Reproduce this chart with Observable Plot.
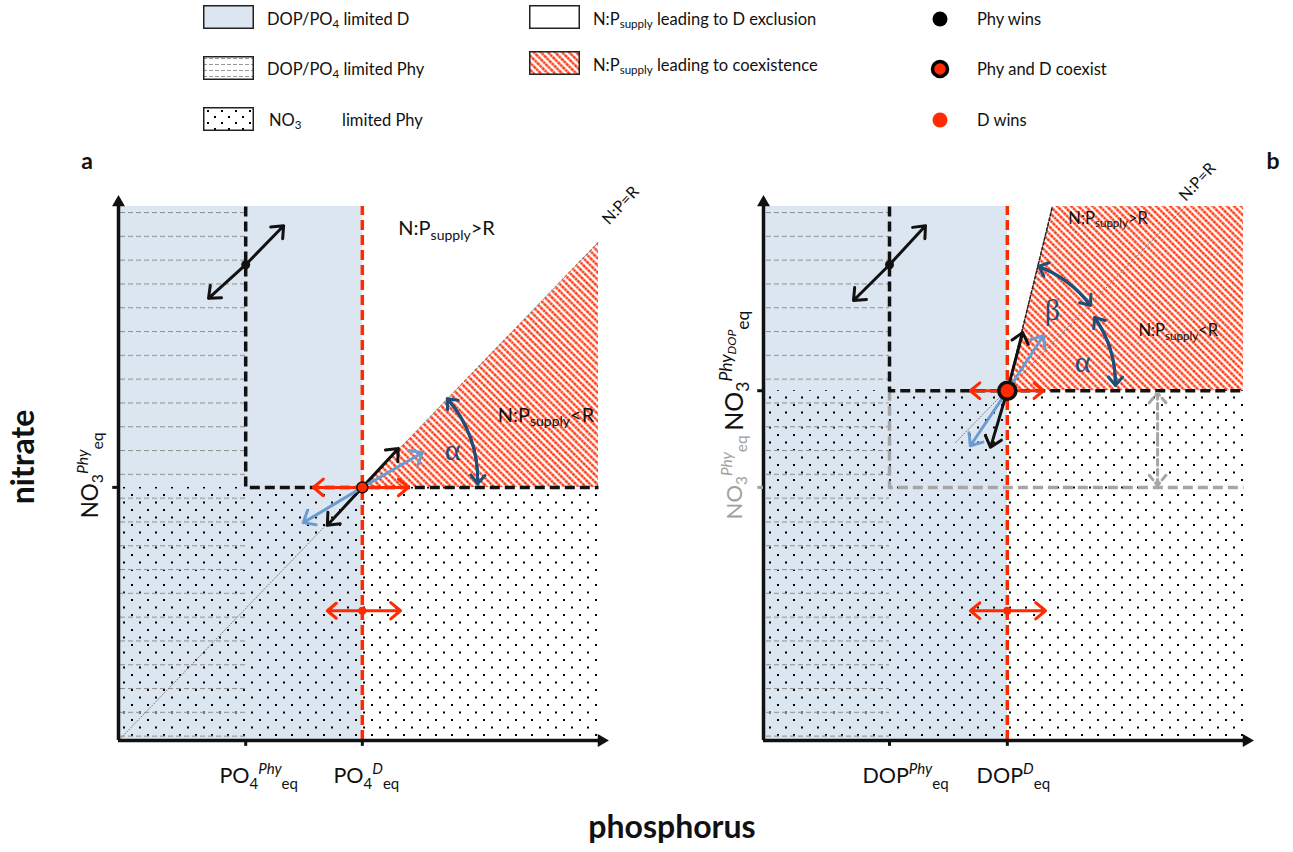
<!DOCTYPE html>
<html><head><meta charset="utf-8">
<script src="https://cdn.jsdelivr.net/npm/d3@7"></script>
<script src="https://cdn.jsdelivr.net/npm/@observablehq/plot@0.6"></script>
<style>
body{margin:0;background:#fff;font-family:Lato,"Open Sans",sans-serif;color:#111}
#root{position:relative;width:1293px;height:852px;overflow:hidden}
.abs{position:absolute;white-space:nowrap;line-height:1}
.c{transform:translate(-50%,-50%)}
.sw{position:absolute;width:51px;height:24px}
.lt{position:absolute;font-size:16.5px;white-space:nowrap;line-height:1;transform:translateY(-50%)}
.lt sub{font-size:70%;vertical-align:-0.3em;line-height:0}
.panel{position:absolute;top:145px}
</style></head>
<body>
<svg width="0" height="0" style="position:absolute">
<defs>
 <pattern id="dots" patternUnits="userSpaceOnUse" width="16" height="15"><rect x="3" y="4" width="2" height="2" fill="#000"/><rect x="11" y="11.5" width="2" height="2" fill="#000"/></pattern>
 <pattern id="hdash" patternUnits="userSpaceOnUse" width="8" height="23.8" y="19.4"><line x1="0" x2="5" y1="0.5" y2="0.5" stroke="#939393" stroke-width="1.2"/></pattern>
 <pattern id="hatch" patternUnits="userSpaceOnUse" width="5" height="7" patternTransform="rotate(-45)"><line x1="2.5" y1="0" x2="2.5" y2="7" stroke="#ff2a00" stroke-width="2.3" stroke-dasharray="3 0.5"/></pattern>
 <pattern id="hdashL" patternUnits="userSpaceOnUse" width="6" height="6" y="2"><line x1="0" x2="4" y1="0.5" y2="0.5" stroke="#9a9a9a" stroke-width="1"/></pattern>
 <pattern id="dotsL" patternUnits="userSpaceOnUse" width="14" height="12"><rect x="4" y="3" width="2" height="2" fill="#000"/><rect x="11" y="9" width="2" height="2" fill="#000"/></pattern>
</defs></svg>
<div id="root"></div>
<script>
// ---------------- data: panel a (PO4) ----------------
const aXTicks = [26.5, 50.8];
const aXTickLabels = ["PO_{4}^{Phy}_{eq}", "PO_{4}^{D}_{eq}"];
const aXLabelShift = [13, 4];
const aYTicks = [47.4];
const aYTickLabels = ["NO_{3}^{Phy}_{eq}"];
const aRatioLine = [{x: 0, y: 0}, {x: 100, y: 93.3}];
const aCoexist = [{x: 50.8, y1: 47.4, y2: 47.4}, {x: 100, y1: 47.4, y2: 93.3}];
const aBlackBoundary = [{x: 26.5, y: 100}, {x: 26.5, y: 47.4}, {x: 100, y: 47.4}];
const aRedBoundary = [50.8];
const aDoubleArrows = [
  {kind: "black", cx: 26.5, cy: 89.1, ax: 18.75, ay: 82.8, bx: 34.4, by: 96.4},
  {kind: "blue",  cx: 50.8, cy: 47.4, ax: 38.5, ay: 40.8, bx: 63.3, by: 53.9},
  {kind: "black", cx: 50.8, cy: 47.4, ax: 43.5, ay: 40.3, bx: 58.3, by: 54.7},
  {kind: "red",   cx: 50.8, cy: 47.4, ax: 40.6, ay: 47.4, bx: 60.4, by: 47.4},
  {kind: "red",   cx: 50.8, cy: 24.3, ax: 43.5, ay: 24.3, bx: 58.75, by: 24.3}
];
const aArcs = [{x1: 68.5, y1: 64.0, x2: 74.8, y2: 48.1, bend: 22}];
const aPoints = [
  {kind: "phy", x: 26.5, y: 89.1},
  {kind: "coexist", x: 50.8, y: 47.4},
  {kind: "d", x: 50.8, y: 24.3}
];
const aTexts = [{text: "N:P_{supply}>R", x: 58.3, y: 95.9}, {text: "N:P_{supply}<R", x: 79, y: 60.9}];
const aGreek = [{text: "α", x: 69.6, y: 54.3}];
const aRatioLabel = [{text: "N:P=R", x: 104.6, y: 100.2}];

// ---------------- data: panel b (DOP) ----------------
const bXTicks = [26.25, 50.8];
const bXTickLabels = ["DOP^{Phy}_{eq}", "DOP^{D}_{eq}"];
const bXLabelShift = [16, 6];
const bYTicks = [65.5, 47.4];
const bYTickLabels = ["NO_{3}^{Phy_{DOP}}_{eq}", "NO_{3}^{Phy}_{eq}"];
const bRatioLine = [{x: 40, y: 55.8}, {x: 87.9, y: 100}];
const bCoexist = [{x: 50.8, y1: 65.5, y2: 65.5}, {x: 60.2, y1: 65.5, y2: 100}, {x: 100, y1: 65.5, y2: 100}];
const bSteepBoundary = [{x: 50.8, y: 65.5}, {x: 60.2, y: 100}];
const bBlackBoundary = [{x: 26.25, y: 100}, {x: 26.25, y: 65.5}, {x: 100, y: 65.5}];
const bGreyBoundary = [{x: 26.25, y: 65.5}, {x: 26.25, y: 47.4}, {x: 100, y: 47.4}];
const bRedBoundary = [50.8];
const bDoubleArrows = [
  {kind: "black", cx: 26.25, cy: 89.1, ax: 18.75, ay: 82.4, bx: 33.75, by: 96.4},
  {kind: "blue",  cx: 50.8, cy: 65.5, ax: 43.1, ay: 55.2, bx: 58.3, by: 75.8},
  {kind: "black", cx: 50.8, cy: 65.5, ax: 47.3, ay: 54.9, bx: 54.0, by: 76.4},
  {kind: "red",   cx: 50.8, cy: 65.5, ax: 43.1, ay: 65.5, bx: 58.3, by: 65.5},
  {kind: "red",   cx: 50.8, cy: 24.3, ax: 43.1, ay: 24.3, bx: 58.75, by: 24.3},
  {kind: "grey",  cx: 82.1, cy: 56.4, ax: 82.1, ay: 47.8, bx: 82.1, by: 65.1}
];
const bArcs = [
  {x1: 57.3, y1: 88.8, x2: 68.1, y2: 81.5, bend: 16},
  {x1: 69.0, y1: 79.2, x2: 73.3, y2: 66.5, bend: 18}
];
const bPoints = [
  {kind: "phy", x: 26.25, y: 89.1},
  {kind: "coexistBig", x: 50.8, y: 65.5},
  {kind: "d", x: 50.8, y: 24.3}
];
const bTexts = [{text: "N:P_{supply}>R", x: 63.5, y: 97.8}, {text: "N:P_{supply}<R", x: 78.1, y: 76.8}];
const bGreek = [{text: "α", x: 66.5, y: 70.8}, {text: "β", x: 60.2, y: 80.5}];
const bRatioLabel = [{text: "N:P=R", x: 90.4, y: 104.6}];

// ---------------- styles ----------------
const RED = "#ff2a00", BLACK = "#111", BLUEFILL = "#dce6f1", ARC = "#1f4e79", GREY = "#a6a6a6";
const kindColor = {black: BLACK, red: RED, blue: "#6b9bd1", grey: GREY};

function doubleArrows(list, kind, extra = {}) {
  const rows = list.filter(d => d.kind === kind).flatMap(d => [
    {x1: d.cx, y1: d.cy, x2: d.ax, y2: d.ay}, {x1: d.cx, y1: d.cy, x2: d.bx, y2: d.by}]);
  return Plot.arrow(rows, {x1: "x1", y1: "y1", x2: "x2", y2: "y2", stroke: kindColor[kind],
    strokeWidth: 3, headLength: 6.5, headAngle: 80, ...extra});
}
function arcs(list) {
  return list.flatMap(d => [
    Plot.arrow([d], {x1: "x1", y1: "y1", x2: "x2", y2: "y2", bend: d.bend, stroke: ARC, strokeWidth: 3, headLength: 5.5, headAngle: 80}),
    Plot.arrow([d], {x1: "x2", y1: "y2", x2: "x1", y2: "y1", bend: -d.bend, stroke: ARC, strokeWidth: 3, headLength: 5.5, headAngle: 80})
  ]);
}
function points(list) {
  const sel = k => list.filter(d => d.kind === k);
  return [
    Plot.dot(sel("phy"), {x: "x", y: "y", r: 4.5, fill: BLACK}),
    Plot.dot(sel("coexist"), {x: "x", y: "y", r: 5.5, fill: RED, stroke: BLACK, strokeWidth: 1.5}),
    Plot.dot(sel("coexistBig"), {x: "x", y: "y", r: 8.5, fill: RED, stroke: BLACK, strokeWidth: 3.5}),
    Plot.dot(sel("d"), {x: "x", y: "y", r: 4, fill: RED})
  ];
}
function axes() {
  return [
    Plot.ruleX([0], {y1: 0, y2: 100, stroke: BLACK, strokeWidth: 3.5}),
    Plot.ruleY([0], {x1: 0, x2: 100, stroke: BLACK, strokeWidth: 3.5}),
    Plot.dot([{x: 0, y: 100}], {x: "x", y: "y", symbol: "triangle", r: 4.8, fill: BLACK, dy: -4}),
    Plot.dot([{x: 100, y: 0}], {x: "x", y: "y", symbol: "triangle", r: 4.8, fill: BLACK, rotate: 90, dx: 3})
  ];
}
function xLabels(ticks, labels, shifts) {
  return ticks.map((t, i) => Plot.text([labels[i]], {x: () => t, y: () => 0, text: d => d,
    dy: 36, dx: shifts[i], fontSize: 21.5, textAnchor: "middle"}));
}
function texts(list, size) {
  return Plot.text(list, {x: "x", y: "y", text: "text", textAnchor: "start", fontSize: size});
}
function greek(list) {
  return Plot.text(list, {x: "x", y: "y", text: "text", fontSize: 30, fill: ARC, fontFamily: "'Liberation Serif', 'DejaVu Serif', serif"});
}
function ratioLabel(list) {
  return Plot.text(list, {x: "x", y: "y", text: "text", rotate: -47, fontSize: 16});
}

function base(marginLeft, marginRight, width, marks) {
  return Plot.plot({
    width, height: 707, marginLeft, marginRight, marginTop: 61, marginBottom: 112,
    x: {domain: [0, 100], axis: null}, y: {domain: [0, 100], axis: null},
    style: {fontFamily: "Lato, 'Open Sans', sans-serif", background: "transparent", overflow: "visible", color: BLACK},
    marks
  });
}
const DASH = "10,5";

const panelA = base(118, 48, 646, [
  Plot.rect([{x1: 0, x2: aRedBoundary[0], y1: 0, y2: 100}], {x1: "x1", x2: "x2", y1: "y1", y2: "y2", fill: BLUEFILL}),
  Plot.rect([{x1: 0, x2: 100, y1: 0, y2: aYTicks[0]}], {x1: "x1", x2: "x2", y1: "y1", y2: "y2", fill: "url(#dots)"}),
  Plot.rect([{x1: 0, x2: aXTicks[0], y1: 0, y2: 100}], {x1: "x1", x2: "x2", y1: "y1", y2: "y2", fill: "url(#hdash)"}),
  Plot.areaY(aCoexist, {x: "x", y1: "y1", y2: "y2", fill: "url(#hatch)"}),
  Plot.line(aRatioLine, {x: "x", y: "y", stroke: "#777", strokeWidth: 1, strokeDasharray: "1,2"}),
  Plot.line(aBlackBoundary, {x: "x", y: "y", stroke: BLACK, strokeWidth: 3.5, strokeDasharray: DASH, strokeLinecap: "butt"}),
  Plot.ruleX(aRedBoundary, {y1: 0, y2: 100, stroke: RED, strokeWidth: 3.5, strokeDasharray: DASH}),
  ...axes(),
  Plot.ruleX(aXTicks, {y1: 0, y2: -1.1, stroke: BLACK, strokeWidth: 3}),
  Plot.ruleY(aYTicks, {x1: -1.2, x2: 0, stroke: BLACK, strokeWidth: 3}),
  ...xLabels(aXTicks, aXTickLabels, aXLabelShift),
  Plot.text(aYTickLabels, {x: () => 0, y: () => aYTicks[0], text: d => d, rotate: -90, dx: -28, dy: -12, fontSize: 22.5, textAnchor: "middle"}),
  doubleArrows(aDoubleArrows, "black"),
  doubleArrows(aDoubleArrows, "blue"),
  doubleArrows(aDoubleArrows, "red"),
  ...arcs(aArcs),
  ...points(aPoints),
  texts(aTexts, 20),
  greek(aGreek),
  ratioLabel(aRatioLabel)
]);

const panelB = base(117, 50, 647, [
  Plot.rect([{x1: 0, x2: bRedBoundary[0], y1: 0, y2: 100}], {x1: "x1", x2: "x2", y1: "y1", y2: "y2", fill: BLUEFILL}),
  Plot.rect([{x1: 0, x2: 100, y1: 0, y2: bYTicks[0]}], {x1: "x1", x2: "x2", y1: "y1", y2: "y2", fill: "url(#dots)"}),
  Plot.rect([{x1: 0, x2: bXTicks[0], y1: 0, y2: 100}], {x1: "x1", x2: "x2", y1: "y1", y2: "y2", fill: "url(#hdash)"}),
  Plot.areaY(bCoexist, {x: "x", y1: "y1", y2: "y2", fill: "url(#hatch)"}),
  Plot.line(bRatioLine, {x: "x", y: "y", stroke: "#777", strokeWidth: 1, strokeDasharray: "1,2"}),
  Plot.line(bSteepBoundary, {x: "x", y: "y", stroke: "#222", strokeWidth: 1.5, strokeDasharray: "3,2"}),
  Plot.line(bGreyBoundary, {x: "x", y: "y", stroke: GREY, strokeWidth: 3.5, strokeDasharray: DASH, strokeLinecap: "butt"}),
  Plot.line(bBlackBoundary, {x: "x", y: "y", stroke: BLACK, strokeWidth: 3.5, strokeDasharray: DASH, strokeLinecap: "butt"}),
  Plot.ruleX(bRedBoundary, {y1: 0, y2: 100, stroke: RED, strokeWidth: 3.5, strokeDasharray: DASH}),
  ...axes(),
  Plot.ruleX(bXTicks, {y1: 0, y2: -1.1, stroke: BLACK, strokeWidth: 3}),
  Plot.ruleY([bYTicks[0]], {x1: -1.2, x2: 0, stroke: BLACK, strokeWidth: 3}),
  Plot.ruleY([bYTicks[1]], {x1: -1.2, x2: 0, stroke: GREY, strokeWidth: 3}),
  ...xLabels(bXTicks, bXTickLabels, bXLabelShift),
  Plot.text([bYTickLabels[0]], {x: () => 0, y: () => bYTicks[0], text: d => d, rotate: -90, dx: -29, dy: -20, fontSize: 25, textAnchor: "middle"}),
  Plot.text([bYTickLabels[1]], {x: () => 0, y: () => bYTicks[1], text: d => d, rotate: -90, dx: -29, dy: -10, fontSize: 22, textAnchor: "middle", fill: "#a0a0a0"}),
  doubleArrows(bDoubleArrows, "grey", {strokeDasharray: "6,4"}),
  doubleArrows(bDoubleArrows, "black"),
  doubleArrows(bDoubleArrows, "blue"),
  doubleArrows(bDoubleArrows, "red"),
  ...arcs(bArcs),
  ...points(bPoints),
  texts(bTexts, 16.5),
  greek(bGreek),
  ratioLabel(bRatioLabel)
]);

// convert _{..} / ^{..} markup into real sub/superscript tspans
function richify(root) {
  root.querySelectorAll("text").forEach(t => {
    const s = t.textContent;
    if (!/[_^]\{/.test(s)) return;
    const size = parseFloat(getComputedStyle(t).fontSize) || 16;
    const segs = [];
    (function parse(str, off, scale, ital) {
      let i = 0, buf = "";
      const flush = () => { if (buf) { segs.push({t: buf, off, scale, ital}); buf = ""; } };
      while (i < str.length) {
        const c = str[i];
        if ((c === "_" || c === "^") && str[i + 1] === "{") {
          flush();
          let depth = 0, j = i + 1;
          for (; j < str.length; j++) {
            if (str[j] === "{") depth++;
            else if (str[j] === "}") { depth--; if (depth === 0) break; }
          }
          const inner = str.slice(i + 2, j);
          const sup = c === "^";
          parse(inner, off + (sup ? -0.42 : 0.24) * scale, scale * 0.7, sup ? true : ital);
          i = j + 1;
        } else { buf += c; i++; }
      }
      flush();
    })(s, 0, 1, false);
    t.textContent = "";
    let prev = 0;
    for (const g of segs) {
      const ts = document.createElementNS("http://www.w3.org/2000/svg", "tspan");
      ts.textContent = g.t;
      ts.setAttribute("font-size", (size * g.scale).toFixed(2));
      if (g.ital) ts.setAttribute("font-style", "italic");
      const d = g.off * size - prev;
      if (Math.abs(d) > 0.01) ts.setAttribute("dy", d.toFixed(2));
      prev = g.off * size;
      t.appendChild(ts);
    }
  });
}

const root = document.getElementById("root");
panelA.classList.add("panel"); panelA.style.left = "0px";
panelB.classList.add("panel"); panelB.style.left = "646px";
root.append(panelA, panelB);
richify(panelA); richify(panelB);

// ---------------- legend & outer labels (HTML) ----------------
const legendHTML = `
<svg class="sw" style="left:203px;top:5px"><rect x="0.75" y="0.75" width="49.5" height="22.5" fill="${BLUEFILL}" stroke="#222" stroke-width="1.5"/></svg>
<svg class="sw" style="left:203px;top:56px"><rect x="0.75" y="0.75" width="49.5" height="22.5" fill="url(#hdashL)" stroke="#222" stroke-width="1.5"/></svg>
<svg class="sw" style="left:203px;top:107px"><rect x="0.75" y="0.75" width="49.5" height="22.5" fill="url(#dotsL)" stroke="#222" stroke-width="1.5"/></svg>
<div class="lt" style="left:267px;top:19px">DOP/PO<sub>4</sub> limited D</div>
<div class="lt" style="left:267px;top:69px">DOP/PO<sub>4</sub> limited Phy</div>
<div class="lt" style="left:269px;top:120px">NO<sub>3</sub></div>
<div class="lt" style="left:342px;top:120px">limited Phy</div>
<svg class="sw" style="left:529px;top:5px"><rect x="0.75" y="0.75" width="49.5" height="22.5" fill="#fff" stroke="#222" stroke-width="1.5"/></svg>
<svg class="sw" style="left:529px;top:51px"><rect x="0.75" y="0.75" width="49.5" height="22.5" fill="url(#hatch)" stroke="#222" stroke-width="1.5"/></svg>
<div class="lt" style="left:593px;top:19px">N:P<sub>supply</sub> leading to D exclusion</div>
<div class="lt" style="left:593px;top:65px">N:P<sub>supply</sub> leading to coexistence</div>
<svg class="abs" style="left:925px;top:4px" width="30" height="130">
  <circle cx="15" cy="15" r="7.5" fill="#000"/>
  <circle cx="15" cy="65" r="7.5" fill="${RED}" stroke="#000" stroke-width="3.5"/>
  <circle cx="15" cy="116" r="7.5" fill="${RED}"/>
</svg>
<div class="lt" style="left:977px;top:19px">Phy wins</div>
<div class="lt" style="left:977px;top:69px">Phy and D coexist</div>
<div class="lt" style="left:977px;top:120px">D wins</div>
<div class="abs c" style="left:87px;top:160px;font-weight:bold;font-size:23px">a</div>
<div class="abs c" style="left:1273px;top:160px;font-weight:bold;font-size:23px">b</div>
<div class="abs" style="left:22px;top:457px;font-weight:bold;font-size:32px;transform:translate(-50%,-50%) rotate(-90deg)">nitrate</div>
<div class="abs c" style="left:672px;top:826px;font-weight:bold;font-size:32px">phosphorus</div>
`;
root.insertAdjacentHTML("beforeend", legendHTML);
</script>
</body></html>
